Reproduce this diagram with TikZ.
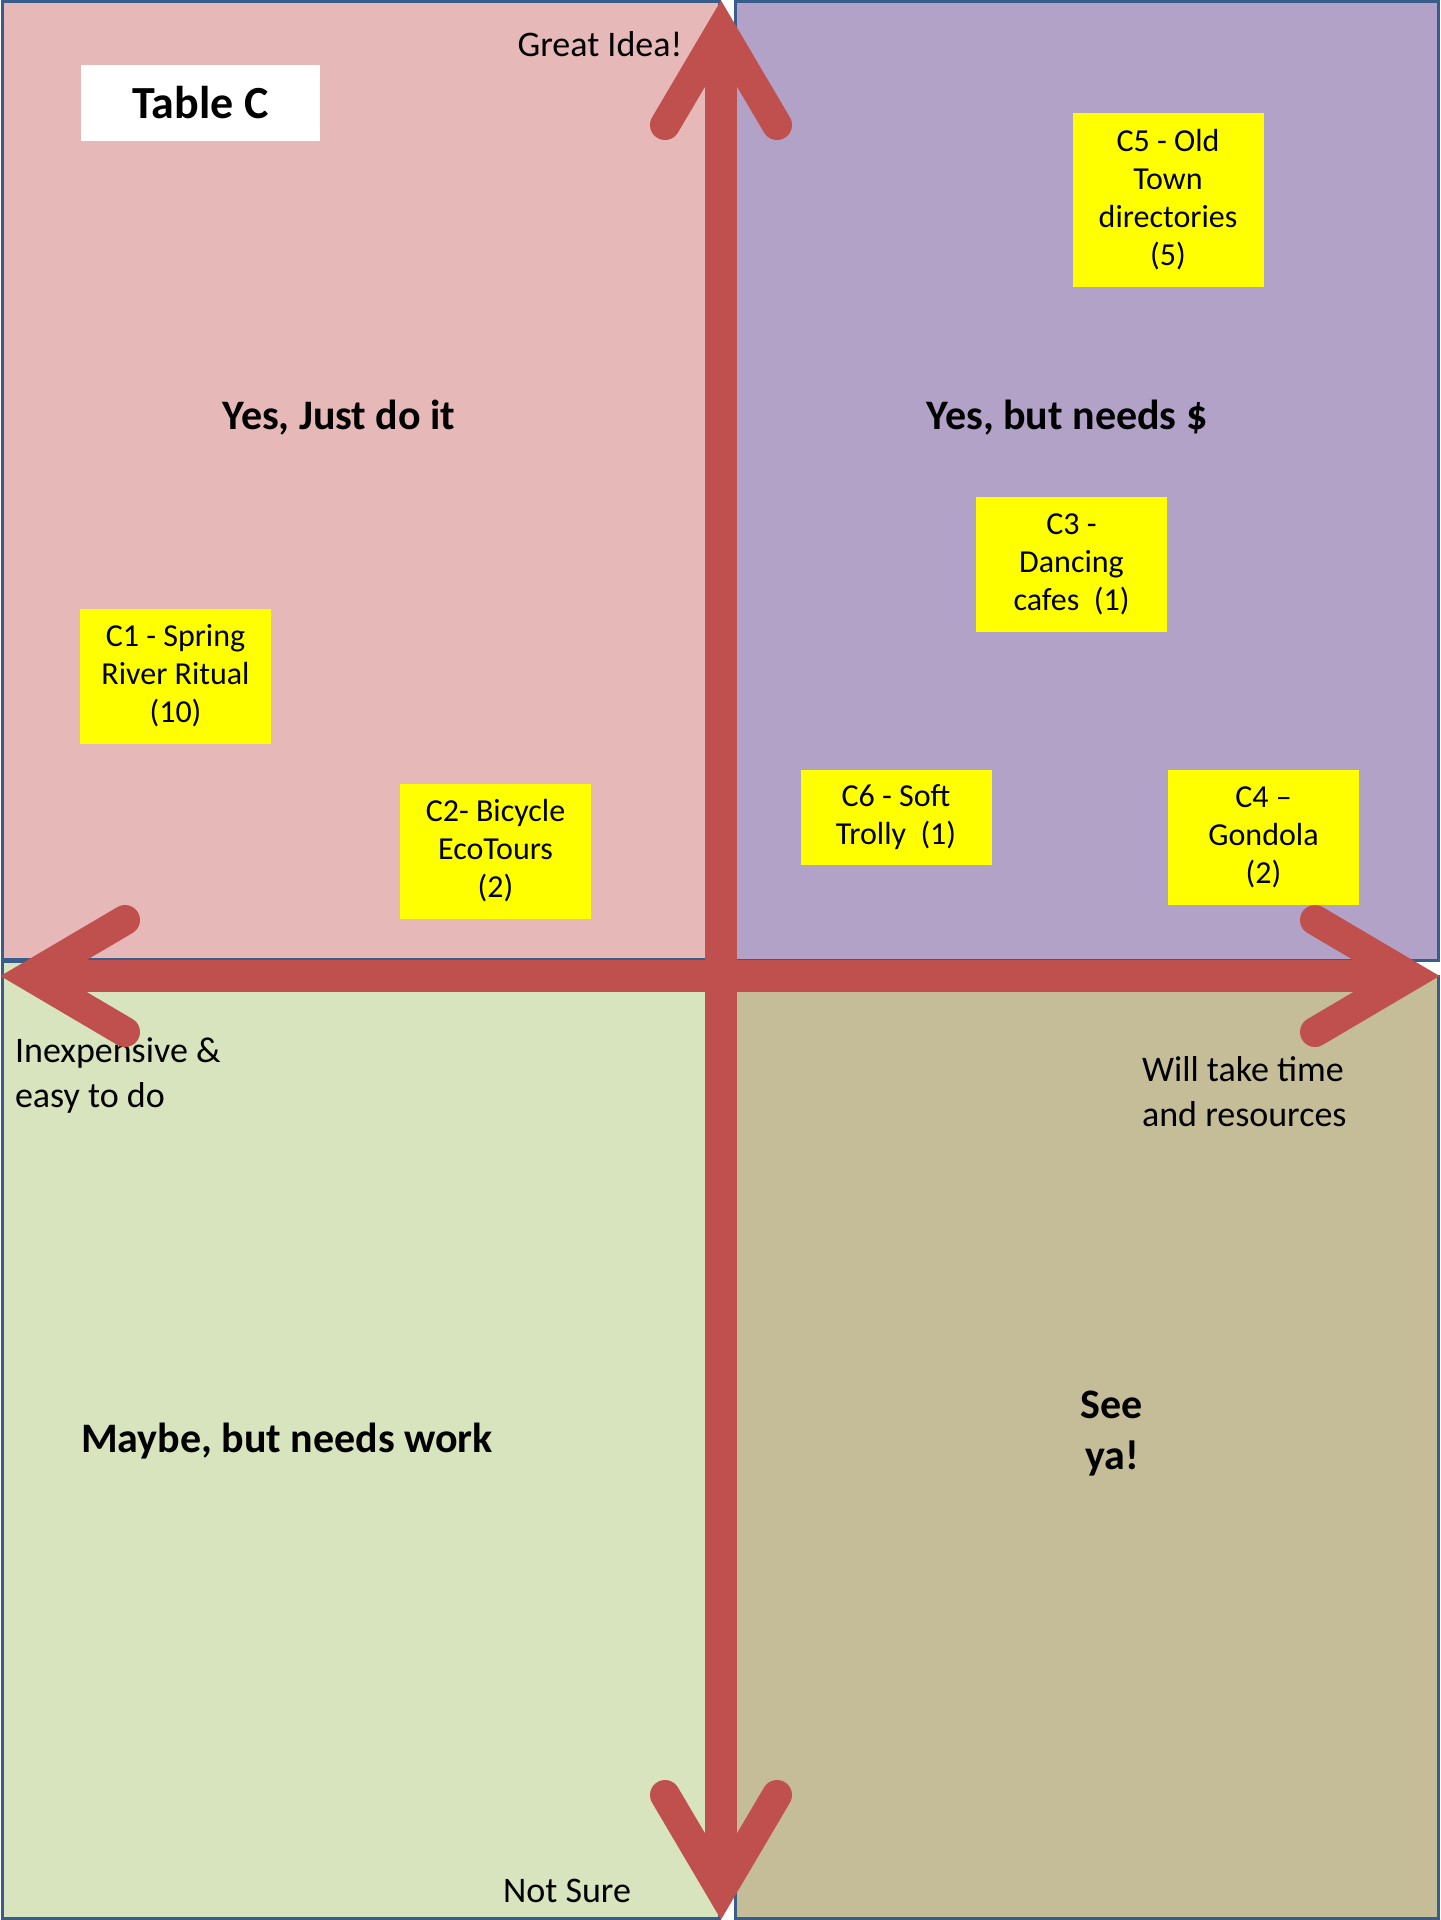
\documentclass[tikz,border=0pt]{standalone}
\usepackage{fontspec}
\setmainfont{Carlito}
\usepackage{xcolor}
\definecolor{quadpink}{HTML}{E6B9B8}
\definecolor{quadpurple}{HTML}{B3A2C7}
\definecolor{quadgreen}{HTML}{D7E4BD}
\definecolor{quadtan}{HTML}{C4BD97}
\definecolor{quadedge}{HTML}{385D8A}
\definecolor{axisred}{HTML}{C0504D}
\definecolor{noteyellow}{HTML}{FFFF00}
\tikzset{
  quad/.style={draw=quadedge, line width=1.5pt},
  note/.style={fill=noteyellow, minimum width=95.5pt, minimum height=67.5pt,
    inner sep=6pt, align=center, font=\fontsize{16}{19}\selectfont},
  verdict/.style={align=center, font=\bfseries\fontsize{21}{25.5}\selectfont},
  axislabel/.style={align=left, font=\fontsize{18}{22.5}\selectfont},
  axisbar/.style={draw=axisred, line width=16pt},
  axishead/.style={draw=axisred, line width=15pt, line cap=round, line join=miter},
}

\begin{document}
\begin{tikzpicture}[x=0.5pt, y=-0.5pt]
      \fill[white] (0,0) rectangle (1440,1920);
      \useasboundingbox (0,0) rectangle (1440,1920);
      % quadrants
      \filldraw[quad, fill=quadpink] (2,2) rectangle (719,959);
      \filldraw[quad, fill=quadpurple] (735,2) rectangle (1438,960);
      \filldraw[quad, fill=quadgreen] (2,961) rectangle (719,1918);
      \filldraw[quad, fill=quadtan] (735,976) rectangle (1438,1918);
      % headings
      \node[fill=white, minimum width=119.5pt, minimum height=38pt,
        font=\bfseries\fontsize{23}{27}\selectfont] (tablec) at (200.5,103) {Table C};
      \node[verdict] (justdo) at (339,418) {Yes, Just do it};
      \node[verdict] (needsmoney) at (1067,418) {Yes, but needs \$};
      \node[verdict] (needswork) at (287,1441) {Maybe, but needs work};
      \node[verdict] (seeya) at (1112,1434) {See\\ya!};
      % axis labels
      \node[axislabel] (great) at (600,44) {Great Idea!};
      \node[axislabel] (notsure) at (567,1891) {Not Sure};
      \node[axislabel, anchor=west] (cheap) at (8,1076) {Inexpensive \&\\easy to do};
      \node[axislabel, anchor=west] (costly) at (1135,1092) {Will take time\\and resources};
      % ideas
      \node[note, minimum height=87pt] (c5) at (1168,200) {C5 - Old\\Town\\directories\\(5)};
      \node[note] (c3) at (1071.5,564) {C3 -\\Dancing\\cafes~~(1)};
      \node[note] (c1) at (175.5,676) {C1 - Spring\\River Ritual\\(10)};
      \node[note] (c2) at (495.5,851) {C2- Bicycle\\EcoTours\\(2)};
      \node[note, minimum height=47.5pt] (c6) at (896,817) {C6 - Soft\\Trolly~~(1)};
      \node[note] (c4) at (1263.5,837) {C4 --\\Gondola\\(2)};
      % axes
      \coordinate (top) at (721,30);
      \coordinate (bottom) at (721,1890);
      \coordinate (left) at (30,976);
      \coordinate (right) at (1410,976);
      \draw[axisbar] (top) -- (bottom);
      \draw[axisbar] (left) -- (right);
      \draw[axishead] (top) ++(-56,95) -- (top) -- ++(56,95);
      \draw[axishead] (bottom) ++(-56,-95) -- (bottom) -- ++(56,-95);
      \draw[axishead] (left) ++(95,-56) -- (left) -- ++(95,56);
      \draw[axishead] (right) ++(-95,-56) -- (right) -- ++(-95,56);
\end{tikzpicture}
\end{document}
